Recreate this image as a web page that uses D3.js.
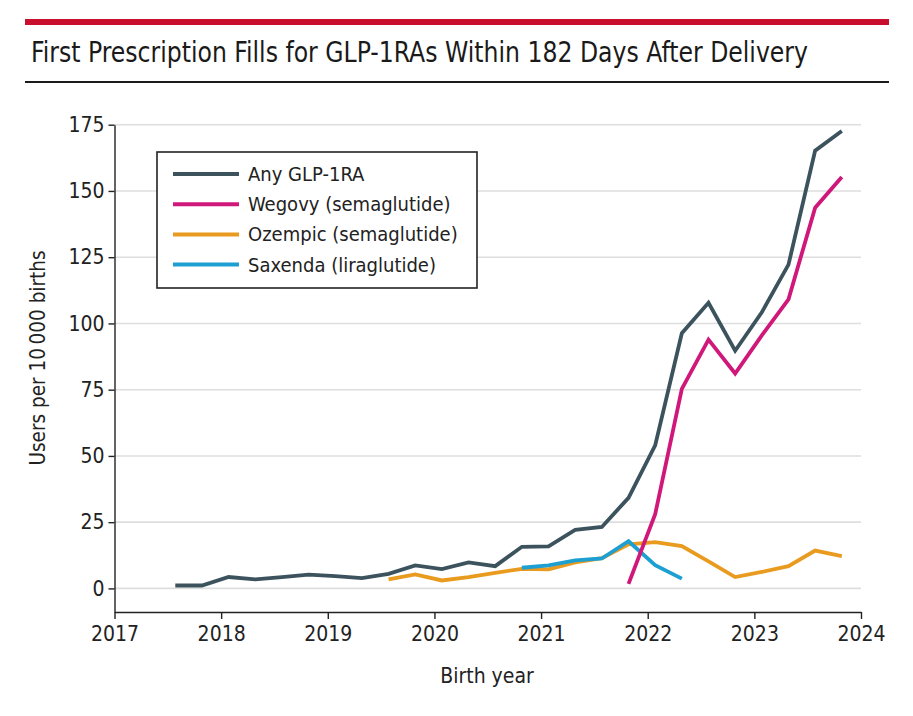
<!DOCTYPE html>
<html>
<head>
<meta charset="utf-8">
<script src="https://cdn.jsdelivr.net/npm/d3@7"></script>
<style>
  body { margin: 0; background: #fff; }
  svg { display: block; }
</style>
</head>
<body>
<svg id="chart" width="913" height="716"></svg>
<script>
// quarterly birth cohorts (fractional year)
var birthYear = [2017.57, 2017.82, 2018.07, 2018.32, 2018.57, 2018.82, 2019.07, 2019.32,
    2019.57, 2019.82, 2020.07, 2020.32, 2020.57, 2020.82, 2021.07, 2021.32,
    2021.57, 2021.82, 2022.07, 2022.32, 2022.57, 2022.82, 2023.07, 2023.32,
    2023.57, 2023.82];

var seriesNames = ["Any GLP-1RA", "Wegovy (semaglutide)", "Ozempic (semaglutide)", "Saxenda (liraglutide)"];
var seriesColors = ["#3c535e", "#d0177a", "#e99b1f", "#1d9fd2"];

// users per 10 000 births, null where the drug was not on the market
var anyGlp = [1.1, 1.1, 4.3, 3.4, 4.3, 5.2, 4.6, 3.9, 5.5, 8.7, 7.3, 9.8, 8.4, 15.7, 15.9, 22.1,
    23.2, 34.2, 54.0, 96.3, 107.8, 89.7, 104.2, 122.2, 165.2, 172.6];
var wegovy = [null, null, null, null, null, null, null, null, null, null, null, null, null, null, null, null,
    null, 1.7, 28.0, 75.3, 93.9, 81.1, 95.5, 109.1, 143.7, 155.3];
var ozempic = [null, null, null, null, null, null, null, null, 3.4, 5.3, 3.0, 4.3, 5.9, 7.4, 7.2, 9.8,
    11.4, 16.6, 17.5, 16.0, 10.2, 4.3, 6.2, 8.4, 14.3, 12.2];
var saxenda = [null, null, null, null, null, null, null, null, null, null, null, null, null, 7.8, 8.7, 10.6,
    11.3, 17.8, 8.8, 3.7, null, null, null, null, null, null];

var xTicks = [2017, 2018, 2019, 2020, 2021, 2022, 2023, 2024];
var yTicks = [0, 25, 50, 75, 100, 125, 150, 175];

var svg = d3.select("#chart"),
    width = +svg.attr("width");

var font = "'DejaVu Sans Condensed', 'DejaVu Sans', sans-serif";

// header rules + title
svg.append("rect")
    .attr("x", 25).attr("y", 19)
    .attr("width", 864).attr("height", 6)
    .attr("fill", "#c8102e");

svg.append("text")
    .attr("x", 31).attr("y", 62)
    .attr("textLength", 777)
    .attr("lengthAdjust", "spacingAndGlyphs")
    .style("font-family", "'Liberation Sans Narrow', 'DejaVu Sans Condensed', sans-serif")
    .style("font-size", "29px")
    .style("fill", "#1a1a1a")
    .text("First Prescription Fills for GLP-1RAs Within 182 Days After Delivery");

svg.append("rect")
    .attr("x", 25).attr("y", 81)
    .attr("width", 864).attr("height", 2)
    .attr("fill", "#1a1a1a");

// scales
var x = d3.scaleLinear().domain([2017, 2024]).range([114.5, 861]);
var y = d3.scaleLinear().domain([-8.9, 175]).range([612, 124.7]);

var g = svg.append("g");

// gridlines
g.append("g")
    .selectAll("line")
    .data(yTicks)
    .enter()
    .append("line")
    .attr("x1", x(2017)).attr("x2", x(2024))
    .attr("y1", function(d) { return y(d); })
    .attr("y2", function(d) { return y(d); })
    .style("stroke", "#dedede")
    .style("stroke-width", 1.6);

// axes
var xAxis = g.append("g")
    .attr("transform", "translate(0," + y.range()[0] + ")")
    .call(d3.axisBottom(x).tickValues(xTicks).tickFormat(d3.format("d")).tickSizeInner(7).tickSizeOuter(0).tickPadding(7));

var yAxis = g.append("g")
    .attr("transform", "translate(" + x(2017) + ",0)")
    .call(d3.axisLeft(y).tickValues(yTicks).tickSizeInner(6).tickSizeOuter(0).tickPadding(4));

[xAxis, yAxis].forEach(function(a) {
    a.selectAll("path, line").style("stroke", "#222").style("stroke-width", 1.4);
    a.selectAll("text")
        .style("font-family", font)
        .style("font-size", "21px")
        .style("fill", "#222");
});

// axis titles
svg.append("text")
    .attr("x", 487).attr("y", 683)
    .attr("text-anchor", "middle")
    .style("font-family", font)
    .style("font-size", "21px")
    .style("fill", "#222")
    .text("Birth year");

svg.append("text")
    .attr("transform", "translate(45,358) rotate(-90)")
    .attr("text-anchor", "middle")
    .style("font-family", font)
    .style("font-size", "20.5px")
    .style("fill", "#222")
    .text("Users per 10\u2009000 births");

// lines
var allSeries = [anyGlp, wegovy, ozempic, saxenda];
var line = d3.line()
    .defined(function(d) { return d[1] != null; })
    .x(function(d) { return x(d[0]); })
    .y(function(d) { return y(d[1]); });

// draw order: Any, Ozempic, Saxenda, Wegovy on top
[0, 2, 3, 1].forEach(function(i) {
    var pts = birthYear.map(function(b, j) { return [b, allSeries[i][j]]; });
    g.append("path")
        .datum(pts)
        .attr("d", line)
        .style("fill", "none")
        .style("stroke", seriesColors[i])
        .style("stroke-width", 3.8)
        .style("stroke-linejoin", "miter");
});

// legend
var legend = svg.append("g").attr("transform", "translate(157,152)");
legend.append("rect")
    .attr("width", 320).attr("height", 136)
    .style("fill", "#fff")
    .style("stroke", "#222")
    .style("stroke-width", 1.6);

var item = legend.selectAll(".item")
    .data(seriesNames)
    .enter()
    .append("g")
    .attr("class", "item")
    .attr("transform", function(d, i) { return "translate(0," + (22 + i * 30.2) + ")"; });

item.append("line")
    .attr("x1", 16).attr("x2", 82)
    .style("stroke", function(d, i) { return seriesColors[i]; })
    .style("stroke-width", 4);

item.append("text")
    .attr("x", 91).attr("dy", "0.35em")
    .style("font-family", font)
    .style("font-size", "20px")
    .style("fill", "#222")
    .text(function(d) { return d; });
</script>
</body>
</html>
